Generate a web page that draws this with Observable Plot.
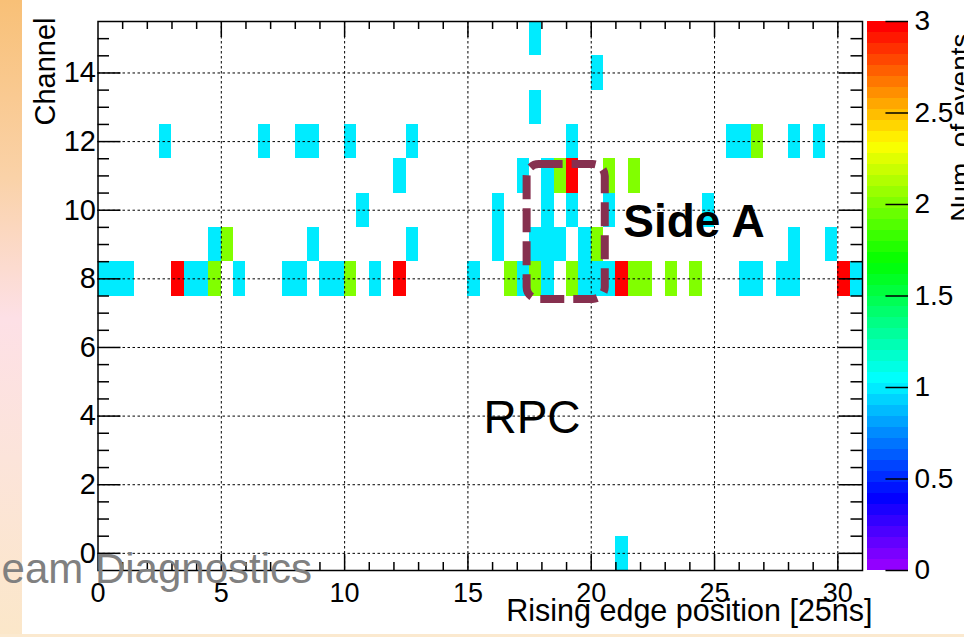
<!DOCTYPE html>
<html>
<head>
<meta charset="utf-8">
<script src="https://cdn.jsdelivr.net/npm/d3@7"></script>
<script src="https://cdn.jsdelivr.net/npm/@observablehq/plot@0.6"></script>
<style>
  html, body { margin: 0; padding: 0; width: 964px; height: 637px; overflow: hidden; background: #fff; }
  #page { position: relative; width: 964px; height: 637px; font-family: "Liberation Sans", Arial, Helvetica, sans-serif; }
  #strip { position: absolute; left: 0; top: 0; width: 22px; height: 637px;
    background: linear-gradient(to bottom, #f8c077 0%, #fad2a8 28%, #fde0e6 50%, #fce4da 72%, #fbe7c9 100%); }
  #foot { position: absolute; left: 0; top: 634px; width: 964px; height: 3px; background: #fbe9cf; }
  #main { position: absolute; left: 0; top: 0; }
  #scale { position: absolute; left: 866px; top: 0; }
  #banner { position: absolute; left: 0; top: 0; pointer-events: none; }
</style>
</head>
<body>
<div id="page">
  <div id="strip"></div>
  <div id="foot"></div>
  <div id="main"></div>
  <div id="scale"></div>
  <svg id="banner" width="964" height="637">
    <text x="312" y="583" text-anchor="end" font-family="Liberation Sans, Arial, Helvetica, sans-serif"
          font-size="42" fill="#808080">Beam Diagnostics</text>
  </svg>
</div>
<script>
// RPC side A: hit map of rising-edge position (0.5-wide bins, 25 ns units) per channel.
const channels = [0, 8, 9, 10, 11, 12, 13, 14, 15];
// Lower edge of each filled bin, per channel.
const edgeBins = [
  [21],
  [0, 0.5, 1, 3, 3.5, 4, 4.5, 5.5, 7.5, 8, 9, 9.5, 10, 11, 12, 15, 16.5, 17, 17.5, 18, 19, 19.5, 20, 20.5, 21, 21.5, 22, 23, 24, 26, 26.5, 27.5, 28, 30, 30.5],
  [4.5, 5, 8.5, 12.5, 16, 17.5, 18, 18.5, 19.5, 20, 28, 29.5],
  [10.5, 16, 18, 19, 20.5, 24.5],
  [12, 17, 18, 18.5, 19, 20.5, 21.5],
  [2.5, 6.5, 8, 8.5, 10, 12.5, 19, 25.5, 26, 26.5, 28, 29],
  [17.5],
  [20],
  [17.5]
];
// Number of events in each of those bins.
const eventCounts = [
  [1],
  [1, 1, 1, 3, 1, 1, 2, 1, 1, 1, 1, 1, 2, 1, 3, 1, 2, 1, 2, 1, 2, 1, 1, 1, 3, 2, 2, 2, 2, 1, 1, 1, 1, 3, 1],
  [1, 2, 1, 1, 1, 1, 1, 1, 1, 2, 1, 1],
  [1, 1, 1, 1, 1, 1],
  [1, 1, 1, 2, 3, 2, 2],
  [1, 1, 1, 1, 1, 1, 1, 1, 1, 2, 1, 1],
  [1],
  [1],
  [1]
];
const xTicks = [0, 5, 10, 15, 20, 25, 30];
const yTicks = [0, 2, 4, 6, 8, 10, 12, 14];
const zTicks = [0, 0.5, 1, 1.5, 2, 2.5, 3];
const xTitle = "Rising edge position [25ns]";
const yTitle = "Channel";
const zTitle = "Num. of events";

const binWidth = 0.5;
const cells = channels.flatMap((ch, i) =>
  edgeBins[i].map((x, j) => ({x, channel: ch, n: eventCounts[i][j]})));

// 50-step "pretty" rainbow palette, violet -> red.
const nColors = 50, zMax = 3;
const palette = d3.range(nColors).map(i =>
  i === nColors - 1 ? "#ff0000" : d3.hsl(280 - (i + 1) * 280 / nColors, 1, 0.5).formatHex());
const color = {type: "threshold", domain: d3.range(1, nColors).map(i => i * zMax / nColors), range: palette};

const W = 964, H = 637;
const M = {top: 21, right: 102, bottom: 67, left: 97.5};
const xDomain = [0, 31], yDomain = [-0.5, 15.5];
const pxX = (W - M.left - M.right) / (xDomain[1] - xDomain[0]);
const pxY = (H - M.top - M.bottom) / (yDomain[1] - yDomain[0]);

const xMajor = xTicks.filter(d => d > xDomain[0]);
const xMinor = d3.range(1, 31).filter(d => d % 5 !== 0);
const yMinor = d3.range(0, 31).map(k => k / 2).filter(d => !yTicks.includes(d));
const fontFamily = "Liberation Sans, Arial, Helvetica, sans-serif";

const tickStyle = {stroke: "black", strokeWidth: 1.5};
const xTick = (vals, len) => [
  Plot.ruleX(vals, {y1: yDomain[0], y2: yDomain[0] + len / pxY, ...tickStyle}),
  Plot.ruleX(vals, {y1: yDomain[1] - len / pxY, y2: yDomain[1], ...tickStyle})
];
const yTick = (vals, len) => [
  Plot.ruleY(vals, {x1: xDomain[0], x2: xDomain[0] + len / pxX, ...tickStyle}),
  Plot.ruleY(vals, {x1: xDomain[1] - len / pxX, x2: xDomain[1], ...tickStyle})
];
const grid = {stroke: "black", strokeWidth: 1, strokeDasharray: "2.5,2.5"};

const main = Plot.plot({
  width: W, height: H,
  marginTop: M.top, marginRight: M.right, marginBottom: M.bottom, marginLeft: M.left,
  x: {domain: xDomain},
  y: {domain: yDomain},
  color,
  style: {background: "transparent", fontFamily, overflow: "visible"},
  marks: [
    Plot.rect(cells, {
      x1: "x", x2: d => d.x + binWidth,
      y1: d => d.channel - 0.5, y2: d => d.channel + 0.5,
      fill: "n", shapeRendering: "crispEdges"
    }),
    Plot.ruleX(xMajor, grid),
    Plot.ruleY(yTicks, grid),
    ...xTick(xMajor, 16), ...xTick(xMinor, 8),
    ...yTick(yTicks, 23), ...yTick(yMinor, 11.5),
    Plot.frame({stroke: "black", strokeWidth: 1.5}),
    Plot.axisX(xTicks, {anchor: "bottom", tickSize: 0, tickPadding: 12, fontSize: 27, label: null, tickFormat: String}),
    Plot.axisY(yTicks, {anchor: "left", tickSize: 0, tickPadding: 2, fontSize: 29, label: null, tickFormat: String}),
    Plot.text([xTitle], {text: d => d, frameAnchor: "bottom-right", textAnchor: "end", dx: 10, dy: 50, fontSize: 30.5}),
    Plot.text([yTitle], {text: d => d, frameAnchor: "top-left", rotate: -90, textAnchor: "end", dx: -64, dy: -4, fontSize: 29}),
    // highlighted region
    Plot.rect([0], {x1: 17.4, x2: 20.57, y1: 7.4, y2: 11.33, rx: 12, fill: "none",
      stroke: "#86304f", strokeWidth: 8, strokeDasharray: "24,9"}),
    Plot.text(["Side A"], {text: d => d, x: 21.3, y: 9.64, textAnchor: "start", fontSize: 46, fontWeight: "bold", fill: "black"}),
    Plot.text(["RPC"], {text: d => d, x: 15.63, y: 3.95, textAnchor: "start", fontSize: 46, fill: "black"})
  ]
});
document.getElementById("main").append(main);

// Colour scale bar
const steps = d3.range(nColors).map(i => ({lo: i * zMax / nColors, hi: (i + 1) * zMax / nColors}));
const scaleBar = Plot.plot({
  width: 98, height: H,
  marginTop: M.top, marginBottom: M.bottom, marginLeft: 1, marginRight: 56,
  x: {domain: [0, 1], axis: null},
  y: {domain: [0, zMax]},
  color,
  style: {background: "transparent", fontFamily, overflow: "visible"},
  marks: [
    Plot.rect(steps, {x1: 0, x2: 1, y1: "lo", y2: "hi", fill: d => (d.lo + d.hi) / 2, shapeRendering: "crispEdges"}),
    Plot.ruleY(zTicks, {x1: 0.45, x2: 1, stroke: "black", strokeWidth: 1.5}),
    Plot.axisY(zTicks, {anchor: "right", tickSize: 0, tickPadding: 6, fontSize: 28, label: null, tickFormat: String}),
    Plot.text([zTitle], {text: d => d, frameAnchor: "top-right", rotate: -90, textAnchor: "end", dx: 42, dy: 12, fontSize: 28})
  ]
});
document.getElementById("scale").append(scaleBar);
</script>
</body>
</html>
